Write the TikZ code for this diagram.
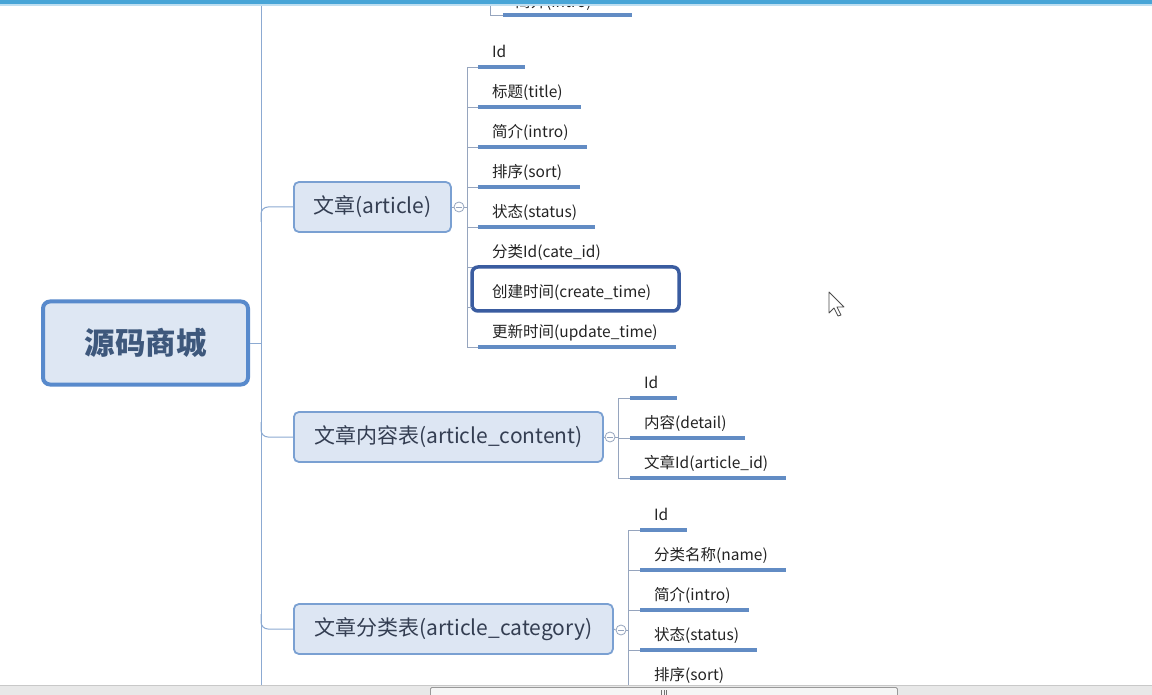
\documentclass[tikz,border=0pt]{standalone}
\usepackage{fontspec}
\setmainfont{Noto Sans CJK SC}
\definecolor{spinec}{RGB}{140,170,210}
\definecolor{linec}{RGB}{150,165,190}
\definecolor{ulc}{RGB}{98,140,196}
\definecolor{rootborder}{RGB}{88,138,204}
\definecolor{rootfill}{RGB}{222,231,243}
\definecolor{roottext}{RGB}{62,88,124}
\definecolor{brborder}{RGB}{122,160,210}
\definecolor{brfill}{RGB}{221,230,243}
\definecolor{brtext}{RGB}{52,62,82}
\definecolor{leaftext}{RGB}{35,35,35}
\definecolor{selc}{RGB}{58,92,160}
\definecolor{topbar}{RGB}{72,165,215}
\definecolor{sbfill}{RGB}{232,232,232}
\definecolor{sbline}{RGB}{200,200,200}
\begin{document}
\begin{tikzpicture}[x=1pt,y=-1pt,
  spine/.style={draw=spinec,line width=1pt},
  cline/.style={draw=linec,line width=0.9pt},
  uline/.style={draw=ulc,line width=3.2pt},
  rootbox/.style={draw=rootborder,line width=4pt,fill=rootfill,rounded corners=7pt,
    minimum width=205pt,minimum height=83pt,font=\fontsize{30.5}{33}\selectfont\bfseries,text=roottext},
  brbox/.style={draw=brborder,line width=1.8pt,fill=brfill,rounded corners=5pt,
    minimum height=50pt,inner xsep=17pt,font=\fontsize{21}{24}\selectfont,text=brtext,anchor=west},
  leaf/.style={inner xsep=14pt,inner ysep=7.5pt,text height=12pt,text depth=2pt,
    font=\fontsize{15.5}{18}\selectfont,text=leaftext,anchor=south west,
    execute at end node={\kern4pt}},
  collapse/.style={circle,draw=linec,fill=white,line width=0.8pt,minimum size=10pt,inner sep=0pt},
  selbox/.style={draw=selc,line width=3.5pt,rounded corners=6pt,fill=white}
]
\useasboundingbox (0,0) rectangle (1152,695);
\fill[white] (0,0) rectangle (1152,695);

% top partial leaf
\begin{scope}
\clip (0,0) rectangle (1152,695);
\node[leaf,inner xsep=0pt] (topleaf) at (515,17) {简介(intro)};
\end{scope}
\coordinate (tophub) at (490,0);
\draw[cline] (tophub) |- (503,15);
\draw[uline] (503,15) -- (632,15);

% spine
\coordinate (spinetop) at (261,0);
\coordinate (spinebot) at (261,686);
\draw[spine] (spinetop) -- (spinebot);

% root
\node[rootbox] (root) at (145.5,343) {源码商城};
\draw[spine] (root.east) -- (root.east -| spinetop);

% branch 1
\node[brbox,minimum width=157pt] (b1) at (293,207) {文章(article)};
\coordinate (b1s) at (261,222);
\draw[spine,rounded corners=7pt] (b1s) |- (b1.west);
\node[collapse] (c1) at (459,207) {};
\draw[cline] (b1.east) -- (c1.west);
\draw[draw=linec,line width=0.8pt] ([xshift=-3pt]c1.center) -- ([xshift=3pt]c1.center);
\coordinate (h1) at (467,207);
\draw[cline] (c1.east) -- (h1);

\node[leaf] (l11) at (478,67) {Id};
\node[leaf] (l12) at (478,107) {标题(title)};
\node[leaf] (l13) at (478,147) {简介(intro)};
\node[leaf] (l14) at (478,187) {排序(sort)};
\node[leaf] (l15) at (478,227) {状态(status)};
\node[leaf] (l16) at (478,267) {分类Id(cate\_id)};
\node[leaf] (l18) at (478,347) {更新时间(update\_time)};
\foreach \n in {l11,l12,l13,l14,l15,l16,l18}{
  \draw[cline] (h1) |- (\n.south west);
  \draw[uline] (\n.south west) -- (\n.south east);
}
\draw[selbox] (472,267) rectangle (679,311);
\node[leaf] (l17) at (478,307) {创建时间(create\_time)};
\draw[cline] (h1) |- (l17.south west -| 472,0);

% branch 2
\node[brbox,minimum width=309pt] (b2) at (293,437) {文章内容表(article\_content)};
\coordinate (b2s) at (261,422);
\draw[spine,rounded corners=7pt] (b2s) |- (b2.west);
\node[collapse] (c2) at (610,437) {};
\draw[cline] (b2.east) -- (c2.west);
\draw[draw=linec,line width=0.8pt] ([xshift=-3pt]c2.center) -- ([xshift=3pt]c2.center);
\coordinate (h2) at (618,437);
\draw[cline] (c2.east) -- (h2);
\node[leaf] (l21) at (630,398) {Id};
\node[leaf] (l22) at (630,438) {内容(detail)};
\node[leaf] (l23) at (630,478) {文章Id(article\_id)};
\foreach \n in {l21,l22,l23}{
  \draw[cline] (h2) |- (\n.south west);
  \draw[uline] (\n.south west) -- (\n.south east);
}

% branch 3
\node[brbox,minimum width=319pt] (b3) at (293,629) {文章分类表(article\_category)};
\coordinate (b3s) at (261,614);
\draw[spine,rounded corners=7pt] (b3s) |- (b3.west);
\node[collapse] (c3) at (621,630) {};
\draw[cline] (b3.east) -- (c3.west);
\draw[draw=linec,line width=0.8pt] ([xshift=-3pt]c3.center) -- ([xshift=3pt]c3.center);
\coordinate (h3) at (628,630);
\draw[cline] (c3.east) -- (h3);
\node[leaf] (l31) at (640,530) {Id};
\node[leaf] (l32) at (640,570) {分类名称(name)};
\node[leaf] (l33) at (640,610) {简介(intro)};
\node[leaf] (l34) at (640,650) {状态(status)};
\node[leaf] (l35) at (640,690) {排序(sort)};
\foreach \n in {l31,l32,l33,l34,l35}{
  \draw[cline] (h3) |- (\n.south west);
  \draw[uline] (\n.south west) -- (\n.south east);
}

% cursor
\draw[fill=white,draw=black!70,line width=0.8pt,line join=round]
  (829,292) -- (829,313) -- (834,308) -- (838,316) -- (841,315) -- (837,307) -- (844,307) -- cycle;

% top bar
\fill[topbar] (0,0) rectangle (1152,4);
\fill[topbar!35] (0,4) rectangle (1152,6);

% bottom scrollbar
\fill[sbfill] (0,685) rectangle (1152,695);
\draw[sbline,line width=0.8pt] (0,685) -- (1152,685);
\node[draw=black!40,fill=black!4,rounded corners=1.5pt,minimum width=467pt,minimum height=10pt,inner sep=0pt,anchor=north west,line width=0.8pt] (thumb) at (430,687) {};
\foreach \dx in {-2.5,0,2.5}{
  \draw[black!55,line width=0.7pt] ([xshift=\dx pt]thumb.center |- 0,690) -- ([xshift=\dx pt]thumb.center |- 0,696);
}
\end{tikzpicture}
\end{document}
